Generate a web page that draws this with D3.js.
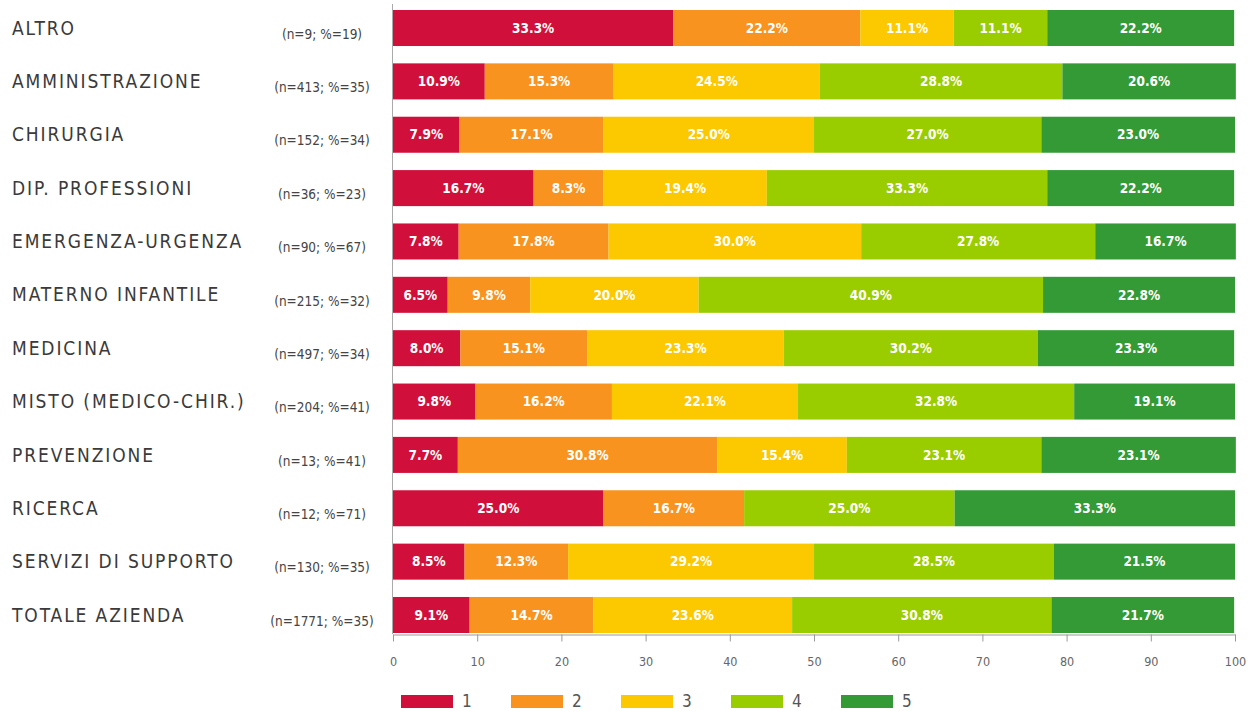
<!DOCTYPE html>
<html><head><meta charset="utf-8">
<script src="https://cdn.jsdelivr.net/npm/d3@7"></script>
<style>body{margin:0;background:#fff;} svg{display:block;}</style>
</head><body>
<svg id="chart" width="1251" height="711"></svg>
<script>
const categories = ["ALTRO","AMMINISTRAZIONE","CHIRURGIA","DIP. PROFESSIONI","EMERGENZA-URGENZA","MATERNO INFANTILE","MEDICINA","MISTO (MEDICO-CHIR.)","PREVENZIONE","RICERCA","SERVIZI DI SUPPORTO","TOTALE AZIENDA"];
const sampleInfo = ["(n=9; %=19)","(n=413; %=35)","(n=152; %=34)","(n=36; %=23)","(n=90; %=67)","(n=215; %=32)","(n=497; %=34)","(n=204; %=41)","(n=13; %=41)","(n=12; %=71)","(n=130; %=35)","(n=1771; %=35)"];
const seriesNames = ["1","2","3","4","5"];
const s1 = [33.3,10.9,7.9,16.7,7.8,6.5,8.0,9.8,7.7,25.0,8.5,9.1];
const s2 = [22.2,15.3,17.1,8.3,17.8,9.8,15.1,16.2,30.8,16.7,12.3,14.7];
const s3 = [11.1,24.5,25.0,19.4,30.0,20.0,23.3,22.1,15.4,0,29.2,23.6];
const s4 = [11.1,28.8,27.0,33.3,27.8,40.9,30.2,32.8,23.1,25.0,28.5,30.8];
const s5 = [22.2,20.6,23.0,22.2,16.7,22.8,23.3,19.1,23.1,33.3,21.5,21.7];
const tickValues = [0,10,20,30,40,50,60,70,80,90,100];
const colors = ["#d0103a","#f7931e","#fcc800","#9acd00","#339a35"];

const rows = categories.map((c,i)=>({cat:c,info:sampleInfo[i],"1":s1[i],"2":s2[i],"3":s3[i],"4":s4[i],"5":s5[i]}));
const stacked = d3.stack().keys(seriesNames)(rows);

const svg = d3.select("#chart");
const x = d3.scaleLinear().domain([0,100]).range([393,1235]);
const y2 = d3.scaleBand().domain(categories).range([10,633]).paddingInner(0.325).paddingOuter(0);
const font = "'DejaVu Sans Condensed', 'Roboto', sans-serif";

const layers = svg.append("g").selectAll("g").data(stacked).join("g")
  .attr("fill",(d,i)=>colors[i]);
layers.selectAll("rect").data(d=>d).join("rect")
  .attr("x",d=>x(d[0])).attr("width",d=>x(d[1])-x(d[0]))
  .attr("y",d=>y2(d.data.cat)).attr("height",y2.bandwidth());

const lbl = svg.append("g");
stacked.forEach((layer)=>{
  layer.forEach(d=>{
    const v = d[1]-d[0];
    if (v<=0) return;
    lbl.append("text")
      .attr("x",(x(d[0])+x(d[1]))/2)
      .attr("y",y2(d.data.cat)+y2.bandwidth()/2)
      .attr("dy","0.35em").attr("text-anchor","middle")
      .attr("fill","#fff").attr("font-family",font).attr("font-weight","bold")
      .attr("font-size",13.5).text(v.toFixed(1)+"%");
  });
});

// category labels
svg.append("g").selectAll("text").data(rows).join("text")
  .attr("x",12).attr("y",d=>y2(d.cat)+y2.bandwidth()/2).attr("dy","0.35em")
  .attr("font-family",font).attr("font-size",19).attr("letter-spacing",1.9).attr("fill","#3a3a3a")
  .text(d=>d.cat);
svg.append("g").selectAll("text").data(rows).join("text")
  .attr("x",322).attr("y",d=>y2(d.cat)+y2.bandwidth()/2+6).attr("dy","0.35em")
  .attr("text-anchor","middle")
  .attr("font-family",font).attr("font-size",13.5).attr("fill","#444")
  .text(d=>d.info);

// left axis line
svg.append("line").attr("x1",392.5).attr("x2",392.5).attr("y1",4).attr("y2",634)
  .attr("stroke","#aaa").attr("stroke-width",1);

// x axis
const xa = svg.append("g").attr("transform","translate(0,634.5)")
  .call(d3.axisBottom(x).tickValues(tickValues).tickSize(7).tickSizeOuter(0).tickPadding(16));
xa.select(".domain").attr("stroke","#999");
xa.selectAll(".tick line").attr("stroke","#999");
xa.selectAll(".tick text").attr("font-family",font).attr("font-size",12.5).attr("fill","#666");

// legend
const leg = svg.append("g").selectAll("g").data(seriesNames).join("g")
  .attr("transform",(d,i)=>`translate(${401+i*110},695)`);
leg.append("rect").attr("width",52).attr("height",13).attr("fill",(d,i)=>colors[i]);
leg.append("text").attr("x",61).attr("y",12)
  .attr("font-family",font).attr("font-size",17).attr("fill","#555").text(d=>d);
</script>
</body></html>
